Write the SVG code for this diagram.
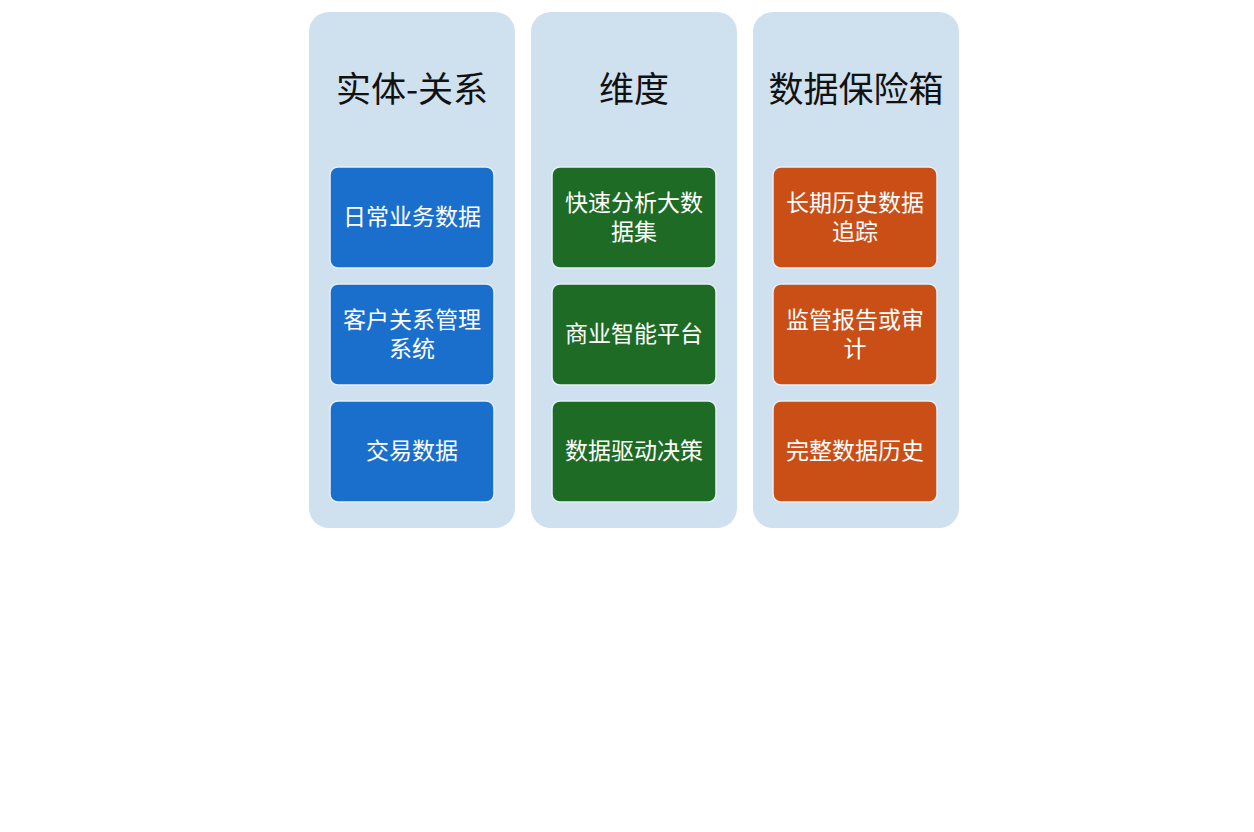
<svg xmlns="http://www.w3.org/2000/svg" width="1254" height="832" viewBox="0 0 1254 832">
<style>
.col{fill:#cfe0ef;}
.title{font-family:"Noto Sans CJK SC","Noto Sans",sans-serif;font-size:35px;fill:#111;text-anchor:middle;dominant-baseline:central;}
.box{stroke:#e6f0f8;stroke-width:1.5;}
.blue{fill:#1a6fcc;}
.green{fill:#1e6b25;}
.orange{fill:#c94f17;}
.lbl{font-family:"Noto Sans CJK SC","Noto Sans",sans-serif;font-size:23px;fill:#fff;text-anchor:middle;dominant-baseline:central;}
</style>
<rect width="1254" height="832" fill="#ffffff"/>
<g id="col1">
<rect class="col" x="309" y="12" width="206" height="516" rx="20"/>
<text class="title" x="412" y="86">实体-关系</text>
</g>
<g id="col2">
<rect class="col" x="531" y="12" width="206" height="516" rx="20"/>
<text class="title" x="634" y="86">维度</text>
</g>
<g id="col3">
<rect class="col" x="753" y="12" width="206" height="516" rx="20"/>
<text class="title" x="856" y="86">数据保险箱</text>
</g>
<g id="n1"><rect class="box blue" x="330" y="167" width="164" height="101" rx="8"/><text class="lbl" x="412" y="215">日常业务数据</text></g>
<g id="n2"><rect class="box blue" x="330" y="284" width="164" height="101" rx="8"/><text class="lbl" x="412" y="318"><tspan x="412" y="318">客户关系管理</tspan><tspan x="412" y="347">系统</tspan></text></g>
<g id="n3"><rect class="box blue" x="330" y="401" width="164" height="101" rx="8"/><text class="lbl" x="412" y="449">交易数据</text></g>
<g id="n4"><rect class="box green" x="552" y="167" width="164" height="101" rx="8"/><text class="lbl" x="634" y="201"><tspan x="634" y="201">快速分析大数</tspan><tspan x="634" y="230">据集</tspan></text></g>
<g id="n5"><rect class="box green" x="552" y="284" width="164" height="101" rx="8"/><text class="lbl" x="634" y="332">商业智能平台</text></g>
<g id="n6"><rect class="box green" x="552" y="401" width="164" height="101" rx="8"/><text class="lbl" x="634" y="449">数据驱动决策</text></g>
<g id="n7"><rect class="box orange" x="773" y="167" width="164" height="101" rx="8"/><text class="lbl" x="855" y="201"><tspan x="855" y="201">长期历史数据</tspan><tspan x="855" y="230">追踪</tspan></text></g>
<g id="n8"><rect class="box orange" x="773" y="284" width="164" height="101" rx="8"/><text class="lbl" x="855" y="318"><tspan x="855" y="318">监管报告或审</tspan><tspan x="855" y="347">计</tspan></text></g>
<g id="n9"><rect class="box orange" x="773" y="401" width="164" height="101" rx="8"/><text class="lbl" x="855" y="449">完整数据历史</text></g>
<g id="connectors"></g>
</svg>
